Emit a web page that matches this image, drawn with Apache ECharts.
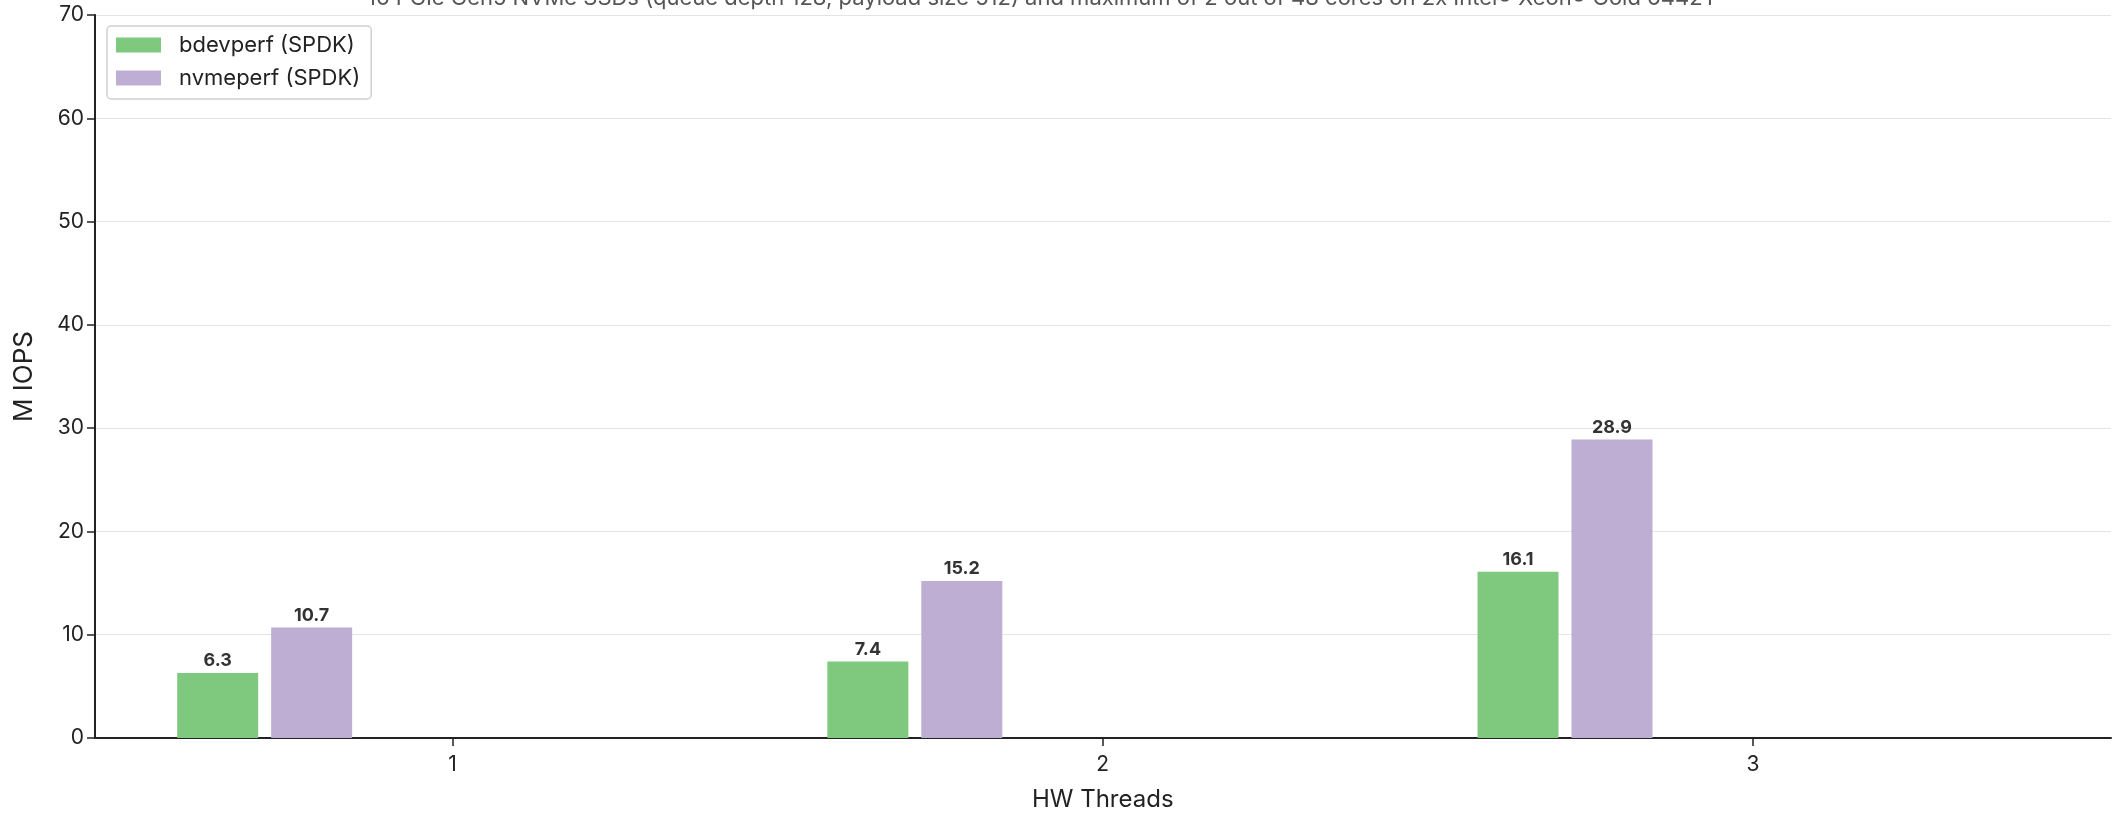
<!DOCTYPE html>
<html>
<head>
<meta charset="utf-8">
<script src="https://cdn.jsdelivr.net/npm/echarts@6/dist/echarts.min.js"></script>
<style>
html,body{margin:0;padding:0;background:#fff;}
#chart{width:2125px;height:822px;}
</style>
</head>
<body>
<div id="chart"></div>
<script>
const categories = ['1', '2', '3'];
const bdevperf = [6.3, 7.4, 16.1];
const nvmeperf = [10.7, 15.2, 28.9];
const seriesNames = ['bdevperf (SPDK)', 'nvmeperf (SPDK)'];
const titleText = '16 PCIe Gen5 NVMe SSDs (queue depth 128, payload size 512) and maximum of 2 out of 48 cores on 2x Intel\u00ae Xeon\u00ae Gold 6442Y';
const yMin = 0, yMax = 70, yStep = 10;

const FONT = 'Inter, "Liberation Sans", sans-serif';
const chart = echarts.init(document.getElementById('chart'), null, {renderer: 'canvas'});

const labelStyle = {
  show: true, position: 'top', distance: 3,
  color: '#333', fontWeight: 'bold', fontSize: 18, fontFamily: FONT
};

const placeholders = [0, 1, 2, 3].map(i => ({
  name: '_slot' + i, type: 'bar', xAxisIndex: 1, yAxisIndex: 1,
  barWidth: 81, barGap: '16%', data: [], silent: true
}));

chart.setOption({
  animation: false,
  backgroundColor: '#ffffff',
  title: {
    text: titleText, left: 362, top: -18,
    textStyle: {fontFamily: FONT, fontSize: 22, fontWeight: 'normal', color: '#555'}
  },
  legend: {
    data: seriesNames,
    left: 107, top: 26, orient: 'vertical',
    padding: [8, 11, 10, 9],
    itemWidth: 45, itemHeight: 15, itemGap: 11,
    icon: 'rect',
    borderColor: '#d0d0d0', borderWidth: 1.5, borderRadius: 4,
    backgroundColor: '#fff',
    textStyle: {fontFamily: FONT, fontSize: 22, color: '#222', lineHeight: 22, padding: [0, 0, 0, 13]}
  },
  grid: [
    {left: 95, right: 14, top: 15, bottom: 84},
    {left: 127.5, right: 47, top: 15, bottom: 84}
  ],
  xAxis: [
    {
      gridIndex: 0, type: 'value', min: 0, max: 1,
      axisLine: {show: true, lineStyle: {color: '#222', width: 2}},
      axisTick: {show: false}, axisLabel: {show: false}, splitLine: {show: false}
    },
    {
      gridIndex: 1, type: 'category', data: categories,
      axisLine: {show: false},
      axisTick: {show: true, alignWithLabel: true, length: 8, lineStyle: {color: '#222', width: 1.5}},
      axisLabel: {fontFamily: FONT, fontSize: 21, color: '#222', margin: 16},
      name: 'HW Threads', nameLocation: 'middle', nameGap: 50,
      nameTextStyle: {fontFamily: FONT, fontSize: 24, color: '#222'}
    }
  ],
  yAxis: [
    {
      gridIndex: 0, type: 'value', min: yMin, max: yMax, interval: yStep,
      axisLine: {show: true, lineStyle: {color: '#222', width: 2}},
      axisTick: {show: true, length: 8, lineStyle: {color: '#222', width: 1.5}},
      axisLabel: {fontFamily: FONT, fontSize: 21, color: '#222', margin: 11},
      splitLine: {show: true, lineStyle: {color: '#e4e4e4', width: 1.2}},
      name: 'M IOPS', nameLocation: 'middle', nameGap: 58, nameRotate: 90,
      nameTextStyle: {fontFamily: FONT, fontSize: 26, color: '#222'}
    },
    {
      gridIndex: 1, type: 'value', min: yMin, max: yMax, interval: yStep, show: false
    }
  ],
  series: [
    {
      name: seriesNames[0], type: 'bar', xAxisIndex: 1, yAxisIndex: 1,
      barWidth: 81, barGap: '16%', data: bdevperf,
      itemStyle: {color: '#7fc97f'}, label: labelStyle
    },
    {
      name: seriesNames[1], type: 'bar', xAxisIndex: 1, yAxisIndex: 1,
      barWidth: 81, barGap: '16%', data: nvmeperf,
      itemStyle: {color: '#beaed4'}, label: labelStyle
    }
  ].concat(placeholders)
});
</script>
</body>
</html>
